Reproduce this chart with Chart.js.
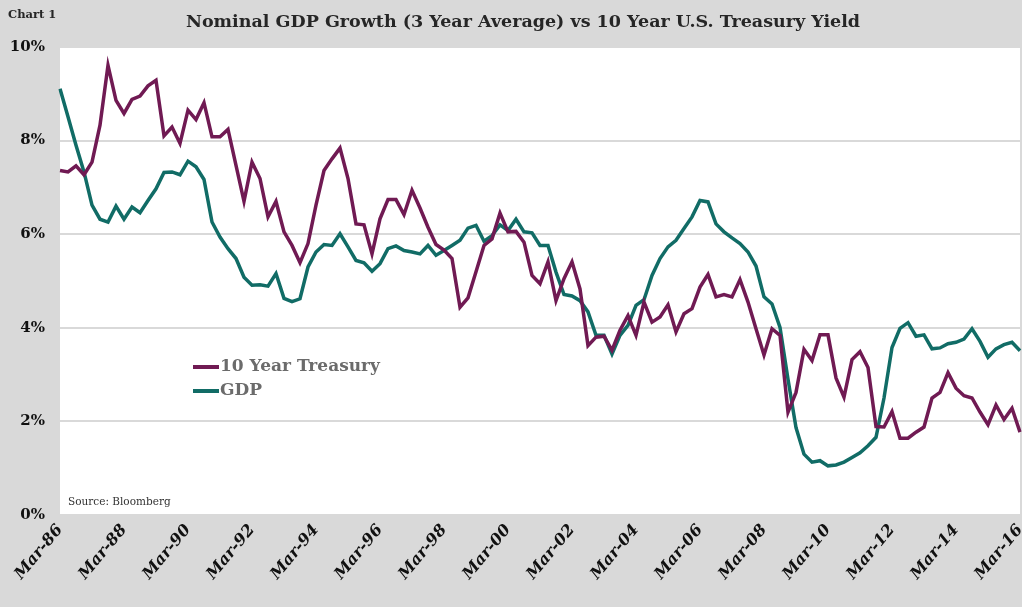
<!DOCTYPE html>
<html>
<head>
<meta charset="utf-8">
<script src="https://cdn.jsdelivr.net/npm/chart.js@4.4.1/dist/chart.umd.min.js"></script>
<style>
  html, body { margin: 0; padding: 0; background: #d9d9d9; }
  #wrap { width: 1022px; height: 607px; }
</style>
</head>
<body>
<div id="wrap"><canvas id="gdpChart" width="1022" height="607"></canvas></div>
<script>
// quarterly, Mar-86 .. Mar-16
var quarters = [
  'Mar-86', 'Jun-86', 'Sep-86', 'Dec-86', 'Mar-87', 'Jun-87', 'Sep-87', 'Dec-87',
  'Mar-88', 'Jun-88', 'Sep-88', 'Dec-88', 'Mar-89', 'Jun-89', 'Sep-89', 'Dec-89',
  'Mar-90', 'Jun-90', 'Sep-90', 'Dec-90', 'Mar-91', 'Jun-91', 'Sep-91', 'Dec-91',
  'Mar-92', 'Jun-92', 'Sep-92', 'Dec-92', 'Mar-93', 'Jun-93', 'Sep-93', 'Dec-93',
  'Mar-94', 'Jun-94', 'Sep-94', 'Dec-94', 'Mar-95', 'Jun-95', 'Sep-95', 'Dec-95',
  'Mar-96', 'Jun-96', 'Sep-96', 'Dec-96', 'Mar-97', 'Jun-97', 'Sep-97', 'Dec-97',
  'Mar-98', 'Jun-98', 'Sep-98', 'Dec-98', 'Mar-99', 'Jun-99', 'Sep-99', 'Dec-99',
  'Mar-00', 'Jun-00', 'Sep-00', 'Dec-00', 'Mar-01', 'Jun-01', 'Sep-01', 'Dec-01',
  'Mar-02', 'Jun-02', 'Sep-02', 'Dec-02', 'Mar-03', 'Jun-03', 'Sep-03', 'Dec-03',
  'Mar-04', 'Jun-04', 'Sep-04', 'Dec-04', 'Mar-05', 'Jun-05', 'Sep-05', 'Dec-05',
  'Mar-06', 'Jun-06', 'Sep-06', 'Dec-06', 'Mar-07', 'Jun-07', 'Sep-07', 'Dec-07',
  'Mar-08', 'Jun-08', 'Sep-08', 'Dec-08', 'Mar-09', 'Jun-09', 'Sep-09', 'Dec-09',
  'Mar-10', 'Jun-10', 'Sep-10', 'Dec-10', 'Mar-11', 'Jun-11', 'Sep-11', 'Dec-11',
  'Mar-12', 'Jun-12', 'Sep-12', 'Dec-12', 'Mar-13', 'Jun-13', 'Sep-13', 'Dec-13',
  'Mar-14', 'Jun-14', 'Sep-14', 'Dec-14', 'Mar-15', 'Jun-15', 'Sep-15', 'Dec-15',
  'Mar-16'
];

var tickLabels = ['Mar-86', 'Mar-88', 'Mar-90', 'Mar-92', 'Mar-94', 'Mar-96', 'Mar-98', 'Mar-00',
  'Mar-02', 'Mar-04', 'Mar-06', 'Mar-08', 'Mar-10', 'Mar-12', 'Mar-14', 'Mar-16'];

var treasury = [
  7.36, 7.33, 7.46, 7.27, 7.54, 8.33, 9.61, 8.86,
  8.58, 8.88, 8.95, 9.17, 9.29, 8.10, 8.29, 7.94,
  8.65, 8.45, 8.81, 8.08, 8.08, 8.24, 7.47, 6.70,
  7.54, 7.19, 6.37, 6.70, 6.05, 5.76, 5.39, 5.80,
  6.62, 7.36, 7.61, 7.84, 7.19, 6.22, 6.20, 5.58,
  6.33, 6.74, 6.74, 6.42, 6.94, 6.56, 6.15, 5.78,
  5.66, 5.48, 4.44, 4.64, 5.20, 5.76, 5.90, 6.45,
  6.05, 6.06, 5.83, 5.12, 4.94, 5.41, 4.58, 5.05,
  5.41, 4.83, 3.62, 3.80, 3.82, 3.52, 3.95, 4.26,
  3.84, 4.55, 4.12, 4.23, 4.49, 3.91, 4.30, 4.41,
  4.87, 5.14, 4.66, 4.71, 4.66, 5.03, 4.55, 3.98,
  3.42, 3.98, 3.84, 2.20, 2.62, 3.54, 3.30, 3.85,
  3.85, 2.93, 2.52, 3.32, 3.49, 3.15, 1.89, 1.88,
  2.21, 1.64, 1.64, 1.77, 1.88, 2.50, 2.62, 3.04,
  2.71, 2.55, 2.50, 2.20, 1.93, 2.35, 2.04, 2.28,
  1.77
];

var gdp = [
  9.11, 8.51, 7.90, 7.33, 6.62, 6.32, 6.26, 6.60,
  6.32, 6.58, 6.46, 6.72, 6.97, 7.32, 7.33, 7.27,
  7.56, 7.44, 7.17, 6.26, 5.94, 5.69, 5.48, 5.08,
  4.91, 4.92, 4.89, 5.16, 4.63, 4.56, 4.62, 5.30,
  5.62, 5.78, 5.76, 6.01, 5.73, 5.44, 5.39, 5.21,
  5.37, 5.69, 5.75, 5.65, 5.62, 5.58, 5.76, 5.55,
  5.65, 5.76, 5.87, 6.13, 6.19, 5.85, 5.97, 6.20,
  6.08, 6.32, 6.05, 6.03, 5.76, 5.76, 5.19, 4.71,
  4.68, 4.58, 4.34, 3.84, 3.84, 3.44, 3.84, 4.05,
  4.48, 4.60, 5.12, 5.48, 5.73, 5.87, 6.12, 6.37,
  6.72, 6.69, 6.22, 6.05, 5.92, 5.80, 5.62, 5.32,
  4.66, 4.51, 4.01, 2.90, 1.87, 1.30, 1.13, 1.16,
  1.05, 1.07, 1.13, 1.23, 1.33, 1.48, 1.66, 2.50,
  3.58, 3.99, 4.11, 3.82, 3.85, 3.55, 3.57, 3.66,
  3.69, 3.76, 3.98, 3.71, 3.37, 3.55, 3.64, 3.69,
  3.51
];

var PURPLE = '#701a53';
var TEAL = '#116c66';
var SERIF = '"DejaVu Serif", serif';

var frame = {
  id: 'frame',
  beforeDraw: function (chart) {
    var ctx = chart.ctx, a = chart.chartArea;
    ctx.save();
    ctx.fillStyle = '#d9d9d9';
    ctx.fillRect(0, 0, chart.width, chart.height);
    ctx.fillStyle = '#ffffff';
    ctx.fillRect(a.left, a.top, a.right - a.left, a.bottom - a.top);
    ctx.restore();
  },
  afterDraw: function (chart) {
    var ctx = chart.ctx;
    ctx.save();
    ctx.fillStyle = '#262626';
    ctx.textBaseline = 'middle';
    ctx.textAlign = 'left';
    ctx.font = 'bold 11.5px ' + SERIF;
    ctx.fillText('Chart 1', 8, 15);
    ctx.textAlign = 'center';
    ctx.font = 'bold 17.5px ' + SERIF;
    ctx.fillText('Nominal GDP Growth (3 Year Average) vs 10 Year U.S. Treasury Yield', 523, 22);

    ctx.textAlign = 'left';
    ctx.fillStyle = '#333333';
    ctx.font = '10.5px ' + SERIF;
    ctx.fillText('Source: Bloomberg', 68, 502);

    // legend inside the plot
    var items = chart.data.datasets;
    var i;
    for (i = 0; i < items.length; i++) {
      var y = 367 + i * 24;
      ctx.strokeStyle = items[i].borderColor;
      ctx.lineWidth = 4;
      ctx.beginPath();
      ctx.moveTo(193, y);
      ctx.lineTo(219, y);
      ctx.stroke();
      ctx.fillStyle = '#6b6b6b';
      ctx.font = 'bold 17px ' + SERIF;
      ctx.fillText(items[i].label, 220, y);
    }
    ctx.restore();
  }
};

new Chart(document.getElementById('gdpChart').getContext('2d'), {
  type: 'line',
  data: {
    labels: quarters,
    datasets: [
      { label: '10 Year Treasury', data: treasury, borderColor: PURPLE, borderWidth: 3.5, pointRadius: 0, tension: 0, fill: false },
      { label: 'GDP', data: gdp, borderColor: TEAL, borderWidth: 3.5, pointRadius: 0, tension: 0, fill: false }
    ]
  },
  options: {
    responsive: false,
    animation: false,
    layout: { padding: { top: 47, right: 2, left: 0, bottom: 0 } },
    plugins: { legend: { display: false }, tooltip: { enabled: false } },
    scales: {
      x: {
        grid: { display: false, drawTicks: false },
        border: { display: false },
        afterFit: function (s) {
          s.height = 92;
          s.paddingLeft = 0;
          s.paddingRight = 0;
        },
        ticks: {
          autoSkip: false,
          maxRotation: 50,
          minRotation: 50,
          padding: 6,
          color: '#111111',
          font: { family: SERIF, size: 16, weight: 'bold', style: 'italic' },
          callback: function (v, i) {
            var lbl = quarters[i];
            return tickLabels.indexOf(lbl) >= 0 ? lbl : '';
          }
        }
      },
      y: {
        min: 0,
        max: 10,
        grid: { color: '#d9d9d9', lineWidth: 2, drawTicks: false },
        border: { display: false },
        afterFit: function (s) { s.width = 60; },
        ticks: {
          stepSize: 2,
          padding: 15,
          color: '#111111',
          font: { family: SERIF, size: 15, weight: 'bold' },
          callback: function (v) { return v + '%'; }
        }
      }
    }
  },
  plugins: [frame]
});
</script>
</body>
</html>
